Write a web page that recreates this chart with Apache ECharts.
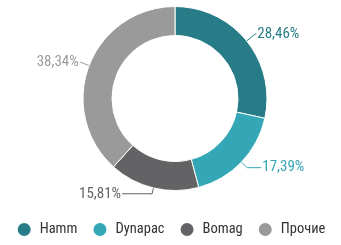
<!DOCTYPE html>
<html><head><meta charset="utf-8">
<script src="https://cdn.jsdelivr.net/npm/echarts@6/dist/echarts.min.js"></script>
<style>html,body{margin:0;padding:0;background:#fff}#c{width:341px;height:245px}</style>
</head><body><div id="c"></div>
<script>
const categories = ['Hamm', 'Dynapac', 'Bomag', 'Прочие'];
const values = [28.46, 17.39, 15.81, 38.34];
const colors = ['#287c87', '#34a7b6', '#636365', '#9a9a9a'];
const FONT = '"Roboto Condensed", "Liberation Sans Narrow", sans-serif';
const lineLen = [11, 8, 6, 9];
const lineLen2 = [1, 14, 30, 1];
const chart = echarts.init(document.getElementById('c'));
chart.setOption({
  animation: false,
  color: colors,
  legend: {
    data: categories,
    top: 216,
    left: 'center',
    icon: 'circle',
    itemWidth: 15,
    itemHeight: 15,
    itemGap: 14,
    textStyle: { fontFamily: FONT, fontSize: 14.5, color: '#333', padding: [0, 0, 0, 3] }
  },
  series: [{
    type: 'pie',
    center: [175, 98.5],
    radius: [63, 92],
    startAngle: 90,
    clockwise: true,
    avoidLabelOverlap: false,
    itemStyle: { borderColor: '#fff', borderWidth: 1 },
    label: {
      show: true,
      position: 'outside',
      fontFamily: FONT,
      fontSize: 15,
      distanceToLabelLine: 1,
      formatter: p => p.value.toFixed(2).replace('.', ',') + '%'
    },
    labelLine: { show: true, lineStyle: { width: 1 } },
    data: categories.map((n, i) => ({
      name: n, value: values[i],
      label: { color: colors[i] },
      labelLine: { length: lineLen[i], length2: lineLen2[i], lineStyle: { color: colors[i] } }
    }))
  }]
});
</script></body></html>
